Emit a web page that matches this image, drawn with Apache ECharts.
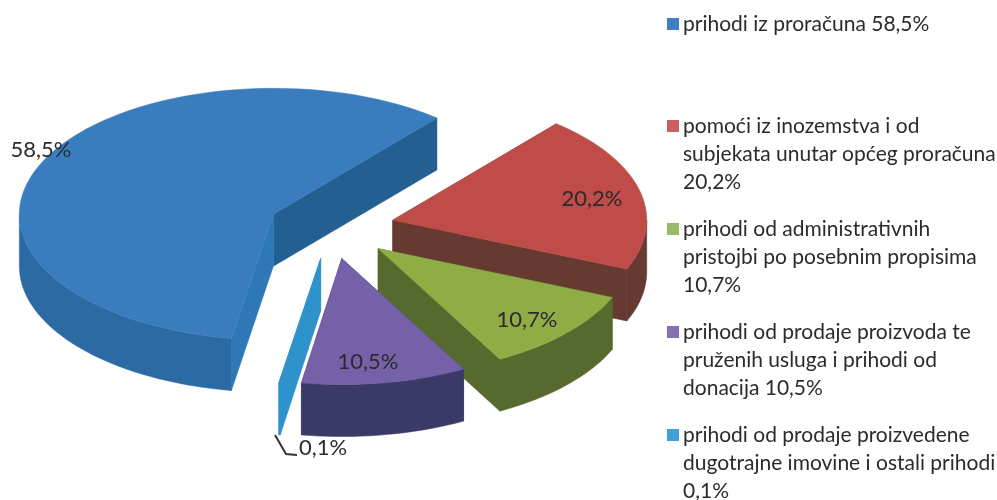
<!DOCTYPE html>
<html>
<head>
<meta charset="utf-8">
<style>
  html, body { margin: 0; padding: 0; background: #fff; }
  #chart { width: 997px; height: 500px; }
</style>
<script src="https://cdn.jsdelivr.net/npm/echarts@6/dist/echarts.min.js"></script>
</head>
<body>
<div id="chart"></div>
<script>
  // data
  var shares = [58.5, 20.2, 10.7, 10.5, 0.1];
  var legendLines = [
    ['prihodi iz proračuna 58,5%'],
    ['pomoći iz inozemstva i od', 'subjekata unutar općeg proračuna', '20,2%'],
    ['prihodi od administrativnih', 'pristojbi po posebnim propisima', '10,7%'],
    ['prihodi od prodaje proizvoda te', 'pruženih usluga i prihodi od', 'donacija 10,5%'],
    ['prihodi od prodaje proizvedene', 'dugotrajne imovine i ostali prihodi', '0,1%']
  ];

  // colours
  var topColors = ['#3a7dbf', '#bf4c48', '#8fac45', '#7561a8', '#2f93cb'];
  var wallColors = ['#2b6aa3', '#663a30', '#566a2e', '#3b3a66', '#2f93cb'];
  var faceColors = ['#245f92', '#663a30', '#566a2e', '#3b3a66', '#2f93cb'];
  var endFaceColors = ['#2e78b8', '#663a30', '#566a2e', '#3b3a66', '#2f93cb'];
  var legendColors = ['#3f80c4', '#c9605f', '#9bb96a', '#8470b5', '#3f9fd6'];

  // layout of the tilted pie
  var center = [331, 227.5];
  var rx = 254, ry = 126, depth = 52, explode = 0.25;
  var firstAngle = 99.5;
  var labelAnchors = [[41, 150], [592, 199], [527, 320], [368, 362], [323, 448]];
  var legendTops = [24, 126, 229, 332, 435];
  var legendX = 683, lineGap = 28;

  function rad (d) { return d * Math.PI / 180 }

  function arc (cx, cy, a, b, dy) {
    var pts = []
    var n = Math.max(2, Math.ceil(Math.abs(b - a) / 2))
    for (var i = 0; i <= n; i++) {
      var t = rad(a + (b - a) * i / n)
      pts.push([cx + rx * Math.cos(t), cy + ry * Math.sin(t) + dy])
    }
    return pts
  }

  function renderSlice (params, api) {
    var i = params.dataIndex
    var a = firstAngle
    for (var k = 0; k < i; k++) a += shares[k] * 3.6
    var b = a + api.value(0) * 3.6
    var mid = rad((a + b) / 2)
    var cx = center[0] + explode * rx * Math.cos(mid)
    var cy = center[1] + explode * ry * Math.sin(mid)
    var children = []

    function poly (points, color) {
      children.push({ type: 'polygon', shape: { points: points }, style: { fill: color, stroke: color, lineWidth: 0.5 } })
    }

    // flat side faces
    var s = arc(cx, cy, a, a, 0)[0], e = arc(cx, cy, b, b, 0)[0]
    poly([[cx, cy], e, [e[0], e[1] + depth], [cx, cy + depth]], faceColors[i])
    poly([[cx, cy], s, [s[0], s[1] + depth], [cx, cy + depth]], endFaceColors[i])

    // curved wall, only the front half can be seen
    ;[0, 360].forEach(function (turn) {
      var from = Math.max(a, turn), to = Math.min(b, turn + 180)
      if (to > from) {
        poly(arc(cx, cy, from, to, 0).concat(arc(cx, cy, to, from, depth)), wallColors[i])
      }
    })

    // top
    poly([[cx, cy]].concat(arc(cx, cy, a, b, 0)), topColors[i])

    children.push({
      type: 'text',
      style: {
        text: String(api.value(0)).replace('.', ',') + '%',
        x: labelAnchors[i][0],
        y: labelAnchors[i][1],
        align: 'center',
        verticalAlign: 'middle',
        fill: '#2b2b2b',
        font: '22px Lato'
      }
    })
    return { type: 'group', children: children }
  }

  var legendGraphics = []
  legendLines.forEach(function (lines, i) {
    legendGraphics.push({
      type: 'rect',
      shape: { x: legendX - 16, y: legendTops[i] - 6, width: 12, height: 12 },
      style: { fill: legendColors[i] }
    })
    lines.forEach(function (line, j) {
      legendGraphics.push({
        type: 'text',
        style: {
          text: line,
          x: legendX,
          y: legendTops[i] + j * lineGap,
          verticalAlign: 'middle',
          fill: '#2b2b2b',
          font: '21px Lato'
        }
      })
    })
  })
  // leader of the 0,1% label
  legendGraphics.push({
    type: 'polyline',
    z: 10,
    shape: { points: [[275, 435], [286, 454], [297, 455]] },
    style: { stroke: '#333', lineWidth: 2, fill: 'none' }
  })

  var chart = echarts.init(document.getElementById('chart'), null, { renderer: 'canvas' })
  chart.setOption({
    backgroundColor: '#fff',
    animation: false,
    graphic: legendGraphics,
    series: [{
      type: 'custom',
      coordinateSystem: 'none',
      silent: true,
      renderItem: renderSlice,
      data: shares.map(function (v) { return [v] })
    }]
  })
</script>
</body>
</html>
